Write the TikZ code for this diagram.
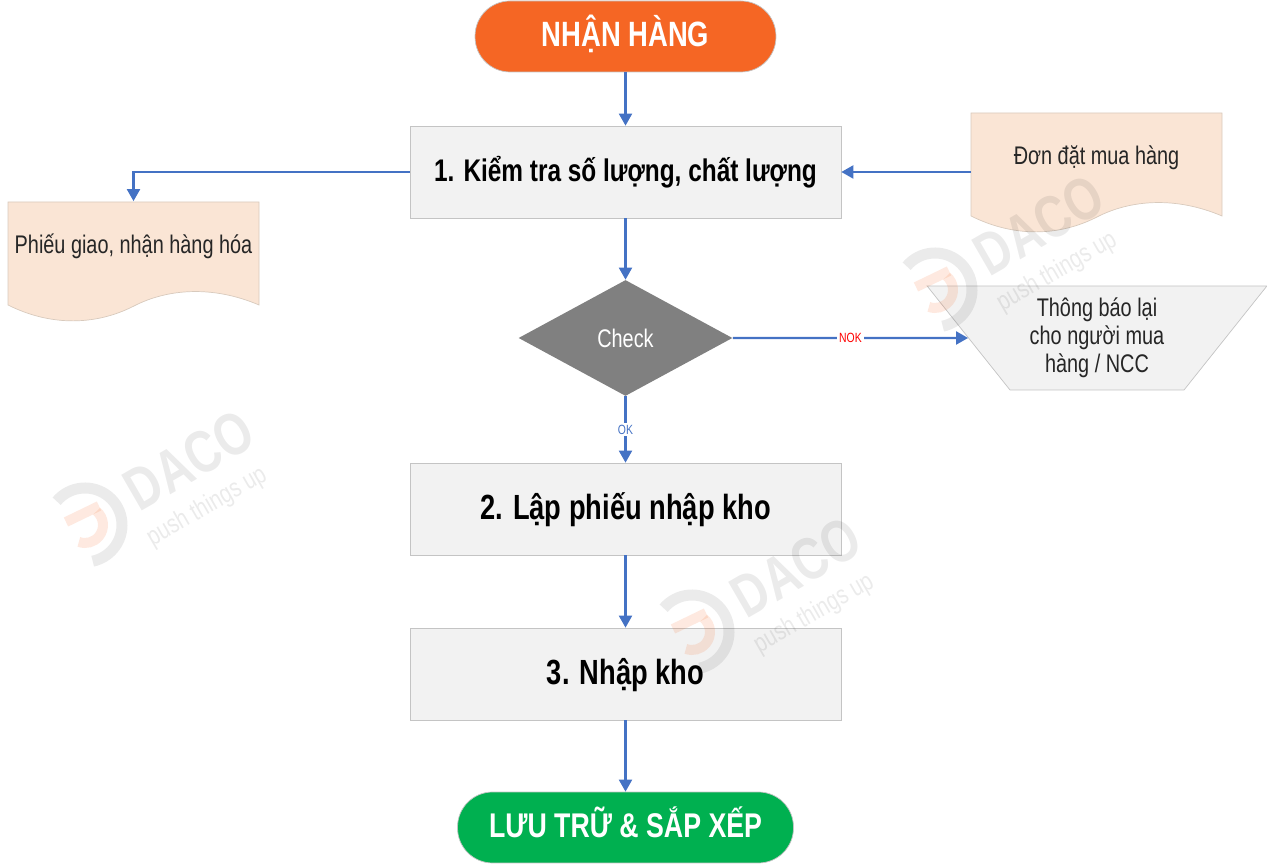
\documentclass[tikz,border=0pt]{standalone}
\usepackage{fontspec}
\setmainfont[FakeStretch=0.78]{Liberation Sans}
\usetikzlibrary{arrows.meta}
\usetikzlibrary{shapes.geometric}
\definecolor{flowblue}{HTML}{4472C4}
\definecolor{startorange}{HTML}{F56624}
\definecolor{endgreen}{HTML}{00B050}
\definecolor{boxgray}{HTML}{F2F2F2}
\definecolor{boxline}{HTML}{C4C4C4}
\definecolor{docpeach}{HTML}{FAE5D5}
\definecolor{docline}{HTML}{D8CABD}
\definecolor{darktext}{HTML}{262626}
\tikzset{%
  terminal/.style={
    rectangle,
    rounded corners=0.7cm,
    draw=boxline,
    text=white,
    font=\fontsize{20}{23}\selectfont\bfseries,
    text height=0.5cm,
    text depth=0.1cm,
    minimum height=1.42cm
  },
  processbox/.style={
    rectangle,
    draw=boxline,
    fill=boxgray,
    text=black,
    font=\fontsize{19.9}{23}\selectfont\bfseries,
    text height=0.56cm,
    text depth=0.12cm,
    minimum width=8.62cm,
    minimum height=1.84cm
  },
  docbox/.style={
    rectangle,
    inner sep=0pt,
    minimum width=5.02cm,
    minimum height=2.38cm
  },
  docshape/.style={
    draw=docline,
    fill=docpeach
  },
  bodytext/.style={
    text=darktext,
    align=center,
    font=\fontsize{14.5}{16}\selectfont
  },
  flow/.style={
    flowblue,
    line width=1.2pt,
    -{Triangle[length=0.24cm,width=0.26cm]}
  },
  edgetag/.style={
    fill=white,
    inner sep=1pt,
    font=\fontsize{7.6}{8}\selectfont
  },
}
\newcommand{\wavepath}{(0,0) -- (251,0) -- (251,-103)
  .. controls (204,-83) and (159,-87) .. (126,-104)
  .. controls (89,-123) and (44,-125) .. (0,-103) -- cycle}

\begin{document}
\begin{tikzpicture}[x=0.02cm, y=0.02cm]
\useasboundingbox (0,0) rectangle (1267,864);

\node[terminal, fill=startorange, minimum width=6.02cm] (start) at (625.5,827.5) {NHẬN HÀNG};
\node[processbox, font=\fontsize{17.8}{21}\selectfont\bfseries, text height=0.5cm] (count) at (625.5,692) {1. Kiểm tra số lượng, chất lượng};
\node[docbox] (order) at (1096.5,692) {};
\draw[docshape,shift={(971,751)}] \wavepath;
\node[bodytext] (ordertext) at (1096.5,706) {Đơn đặt mua hàng};
\node[docbox] (receipt) at (133.5,603) {};
\draw[docshape,shift={(8,662)}] \wavepath;
\node[bodytext] (receipttext) at (133.5,618) {Phiếu giao, nhận hàng hóa};
\node[diamond, fill=gray, inner sep=0pt, minimum width=4.28cm, minimum height=2.32cm,
      text=white, font=\fontsize{14.5}{16}\selectfont] (check) at (625.5,526) {Check};
\node[trapezium, shape border rotate=180, draw=boxline, fill=boxgray, inner sep=0pt,
      trapezium left angle=51.4, trapezium right angle=51.4,
      minimum width=6.68cm, minimum height=2.08cm, bodytext] (notice) at (1097,526) {Thông báo lại\\cho người mua\\hàng / NCC};
\node[processbox] (slip) at (625.5,355) {2. Lập phiếu nhập kho};
\node[processbox] (stock) at (625.5,190) {3. Nhập kho};
\node[terminal, fill=endgreen, minimum width=6.72cm, font=\fontsize{19.5}{23}\selectfont\bfseries] (finish) at (625.5,36.5) {LƯU TRỮ \& SẮP XẾP};

\draw[flow] (start.south) -- (count.north);
\draw[flow] (count.west) -| (receipt.north);
\draw[flow] (order.west) -- (count.east);
\draw[flow] (count.south) -- (check.north);
\draw[flow] (check.east) -- node[edgetag, text=red] (nok) {NOK} (notice.west);
\draw[flow] (check.south) -- node[edgetag, text=flowblue] (ok) {OK} (slip.north);
\draw[flow] (slip.south) -- (stock.north);
\draw[flow] (stock.south) -- (finish.north);

% watermarks
\foreach \x/\y/\n in {85/339/a,692/232/b,935/574/c}
    {\begin{scope}[shift={(\x,\y)}]
        \draw[black,opacity=0.08,line width=0.22cm] (140:37) arc (140:-78:37);
        \draw[startorange,opacity=0.14,line width=0.2cm] (50:18) arc (50:-110:18);
        \draw[startorange,opacity=0.14,line width=0.2cm] (-19,3) -- (14,19);
        \node[rotate=30, opacity=0.08, font=\fontsize{34}{36}\selectfont\bfseries] (daco\n) at (104,65) {DACO};
        \node[rotate=30, opacity=0.08, font=\fontsize{15}{17}\selectfont] (push\n) at (122,18) {push things up};
     \end{scope}}
\end{tikzpicture}
\end{document}
